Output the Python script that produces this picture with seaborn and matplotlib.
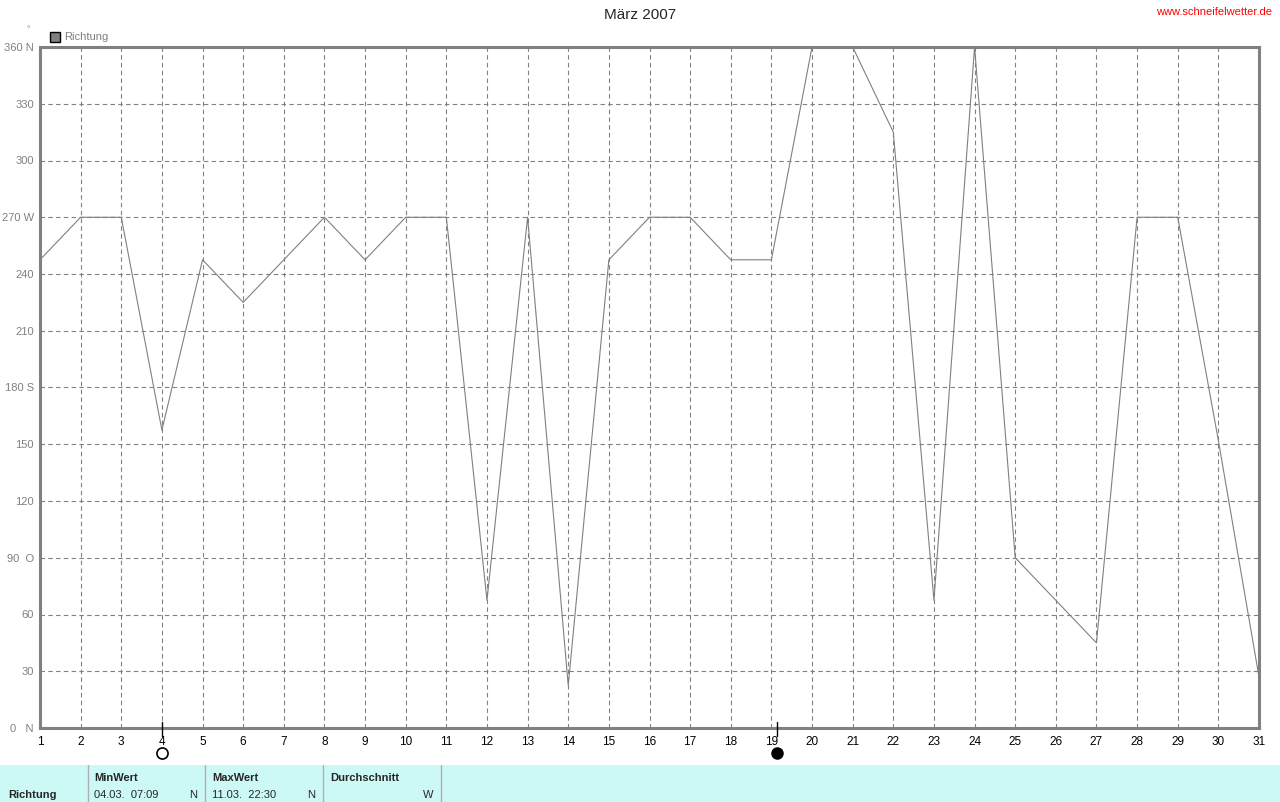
import numpy as np
import pandas as pd
import matplotlib
matplotlib.use("Agg")
import matplotlib.pyplot as plt
from matplotlib.patches import Rectangle
import seaborn as sns

# daily wind direction, Maerz 2007
days = list(range(1, 32))
richtung = [247.5, 270, 270, 157.5, 247.5, 225, 247.5, 270, 247.5, 270,
            270, 67.5, 270, 22.5, 247.5, 270, 270, 247.5, 247.5, 360,
            360, 315, 67.5, 360, 90, 67.5, 45, 270, 270, 152, 27]

y_ticks = [0, 30, 60, 90, 120, 150, 180, 210, 240, 270, 300, 330, 360]
y_labels = ["0   N", "30", "60", "90  O", "120", "150", "180 S", "210",
            "240", "270 W", "300", "330", "360 N"]

vollmond = 4
neumond = 19.15

table_heads = ["MinWert", "MaxWert", "Durchschnitt"]
table_dates = ["04.03.  07:09", "11.03.  22:30", ""]
table_dirs = ["N", "N", "W"]

df = pd.DataFrame({"Tag": days, "Richtung": richtung})

sns.set_style("white")
plt.rcParams["font.family"] = ["Liberation Sans", "DejaVu Sans"]

fig = plt.figure(figsize=(12.8, 8.02), dpi=100)
ax = fig.add_axes([40 / 1280, 1 - 728 / 802, 1219 / 1280, 681 / 802])

sns.lineplot(data=df, x="Tag", y="Richtung", ax=ax, color="#808080", linewidth=0.8)

ax.set_xlim(1, 31)
ax.set_ylim(0, 360)
ax.set_xticks(days)
ax.set_xticklabels([str(d) for d in days], fontsize=8.5, color="black")
ax.set_yticks(y_ticks)
ax.set_yticklabels(y_labels, fontsize=8, color="#808080")
ax.tick_params(axis="y", length=3, width=1, color="#808080", pad=1.5, direction="out")
ax.tick_params(axis="x", length=3, width=1, color="#808080", pad=3, direction="out")
ax.grid(True, color="#808080", linestyle=(0, (4, 3)), linewidth=0.8)
for s in ax.spines.values():
    s.set_color("#808080")
    s.set_linewidth(2.2)
ax.set_xlabel("")
ax.set_ylabel("")

# moon phases
ax.plot([vollmond, vollmond], [3, -4], color="black", lw=1, clip_on=False, zorder=5)
ax.plot(vollmond, -13, marker="o", ms=8, mfc="white", mec="black", mew=1.2,
        clip_on=False, zorder=5)
ax.plot([neumond, neumond], [3, -4], color="black", lw=1, clip_on=False, zorder=5)
ax.plot(neumond, -13, marker="o", ms=8, mfc="black", mec="black",
        clip_on=False, zorder=5)

# title, unit, source
fig.text(0.5, 1 - 15 / 802, "März 2007", ha="center", va="center", fontsize=11)
fig.text(28 / 1280, 1 - 30 / 802, "°", ha="center", va="center", fontsize=6, color="#808080")
fig.text(1272 / 1280, 1 - 12 / 802, "www.schneifelwetter.de", ha="right", va="center",
         fontsize=8, color="red")

# legend
fig.patches.append(Rectangle((50 / 1280, 1 - 42 / 802), 10 / 1280, 10 / 802,
                             transform=fig.transFigure, facecolor="#808080",
                             edgecolor="black", linewidth=1))
fig.text(64 / 1280, 1 - 37 / 802, "Richtung", ha="left", va="center", fontsize=8, color="#808080")

# summary table at bottom
fig.patches.append(Rectangle((0, 0), 1, 37 / 802, transform=fig.transFigure,
                             facecolor="#ccf8f5", edgecolor="none"))
for xs in [88, 205, 323, 441]:
    fig.add_artist(plt.Line2D([xs / 1280, xs / 1280], [0, 37 / 802],
                              transform=fig.transFigure, color="#b0b0b0", lw=1))
fig.text(8 / 1280, 1 - 795 / 802, "Richtung", ha="left", va="center", fontsize=8, weight="bold")
col_x = [94, 212, 330]
dir_x = [197, 315, 433]
for cx, dx, head, date, d in zip(col_x, dir_x, table_heads, table_dates, table_dirs):
    fig.text(cx / 1280, 1 - 778 / 802, head, ha="left", va="center", fontsize=8, weight="bold")
    fig.text(cx / 1280, 1 - 795 / 802, date, ha="left", va="center", fontsize=8)
    fig.text(dx / 1280, 1 - 795 / 802, d, ha="right", va="center", fontsize=8)

fig.savefig("out.png", dpi=100)
plt.close(fig)
